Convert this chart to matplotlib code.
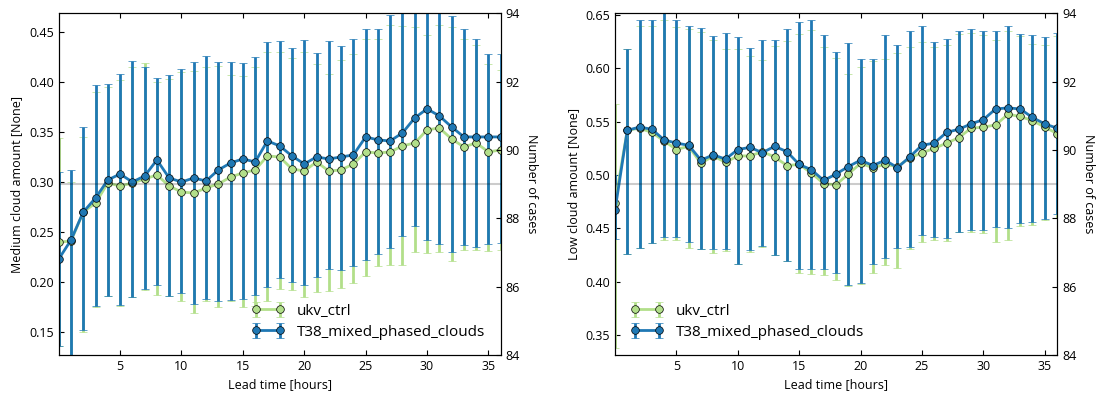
import matplotlib
matplotlib.use("Agg")
import matplotlib.pyplot as plt

plt.rcParams['font.family'] = ['Open Sans', 'DejaVu Sans']
plt.rcParams['xtick.direction'] = 'in'
plt.rcParams['ytick.direction'] = 'in'
plt.rcParams['xtick.top'] = True
plt.rcParams['xtick.labelsize'] = 9
plt.rcParams['ytick.labelsize'] = 9
plt.rcParams['axes.labelsize'] = 9

# lead times (hours)
hours = list(range(37))

# medium cloud amount: mean and spread bounds
mid_ctrl_mean = [0.240, 0.241, 0.270, 0.279, 0.299, 0.296, 0.299, 0.303, 0.307, 0.296, 0.290, 0.289, 0.294,
                 0.298, 0.305, 0.309, 0.312, 0.326, 0.325, 0.313, 0.311, 0.320, 0.311, 0.312, 0.318, 0.330,
                 0.329, 0.330, 0.336, 0.339, 0.352, 0.354, 0.343, 0.335, 0.339, 0.330, 0.332]
mid_ctrl_lo = [0.136, 0.110, 0.150, 0.175, 0.186, 0.176, 0.185, 0.192, 0.187, 0.186, 0.181, 0.169, 0.181,
               0.175, 0.181, 0.175, 0.176, 0.181, 0.193, 0.192, 0.185, 0.190, 0.191, 0.194, 0.199, 0.206,
               0.216, 0.217, 0.217, 0.230, 0.229, 0.230, 0.221, 0.232, 0.232, 0.231, 0.232]
mid_ctrl_hi = [0.344, 0.300, 0.345, 0.390, 0.395, 0.402, 0.415, 0.419, 0.400, 0.403, 0.410, 0.411, 0.415,
               0.416, 0.407, 0.406, 0.415, 0.430, 0.430, 0.424, 0.430, 0.418, 0.408, 0.422, 0.428, 0.443,
               0.443, 0.457, 0.456, 0.455, 0.447, 0.457, 0.455, 0.443, 0.437, 0.418, 0.412]

mid_t38_mean = [0.223, 0.242, 0.270, 0.284, 0.302, 0.308, 0.300, 0.306, 0.322, 0.304, 0.300, 0.304, 0.301,
                0.312, 0.319, 0.323, 0.320, 0.341, 0.336, 0.326, 0.318, 0.325, 0.323, 0.325, 0.327, 0.345,
                0.342, 0.341, 0.349, 0.364, 0.373, 0.366, 0.355, 0.345, 0.345, 0.345, 0.345]
mid_t38_lo = [0.136, 0.100, 0.152, 0.176, 0.186, 0.177, 0.185, 0.193, 0.197, 0.186, 0.189, 0.178, 0.183,
              0.181, 0.182, 0.183, 0.187, 0.195, 0.204, 0.200, 0.197, 0.205, 0.213, 0.212, 0.216, 0.222,
              0.228, 0.234, 0.246, 0.256, 0.242, 0.238, 0.230, 0.237, 0.235, 0.238, 0.239]
mid_t38_hi = [0.310, 0.312, 0.355, 0.397, 0.398, 0.408, 0.421, 0.415, 0.404, 0.407, 0.413, 0.420, 0.426,
              0.420, 0.420, 0.419, 0.425, 0.440, 0.441, 0.434, 0.442, 0.429, 0.441, 0.436, 0.443, 0.453,
              0.453, 0.467, 0.475, 0.480, 0.485, 0.478, 0.466, 0.453, 0.443, 0.428, 0.428]

# low cloud amount: mean and spread bounds
low_ctrl_mean = [0.474, 0.542, 0.544, 0.540, 0.532, 0.524, 0.527, 0.511, 0.518, 0.512, 0.518, 0.518, 0.522,
                 0.517, 0.509, 0.510, 0.502, 0.492, 0.491, 0.501, 0.511, 0.507, 0.510, 0.508, 0.516, 0.521,
                 0.525, 0.530, 0.535, 0.544, 0.545, 0.547, 0.557, 0.555, 0.551, 0.545, 0.539]
low_ctrl_lo = [0.338, 0.426, 0.432, 0.436, 0.439, 0.439, 0.432, 0.431, 0.427, 0.429, 0.417, 0.428, 0.433,
               0.425, 0.420, 0.408, 0.407, 0.406, 0.402, 0.396, 0.398, 0.408, 0.416, 0.413, 0.431, 0.437,
               0.439, 0.438, 0.447, 0.447, 0.446, 0.437, 0.439, 0.452, 0.453, 0.458, 0.460]
low_ctrl_hi = [0.567, 0.618, 0.640, 0.640, 0.645, 0.639, 0.637, 0.634, 0.627, 0.618, 0.618, 0.612, 0.608,
               0.621, 0.626, 0.632, 0.636, 0.620, 0.610, 0.595, 0.601, 0.607, 0.609, 0.614, 0.620, 0.625,
               0.620, 0.622, 0.632, 0.633, 0.631, 0.627, 0.635, 0.630, 0.623, 0.622, 0.630]

low_t38_mean = [0.467, 0.542, 0.545, 0.543, 0.533, 0.530, 0.528, 0.514, 0.519, 0.515, 0.524, 0.526, 0.521,
                0.527, 0.522, 0.510, 0.505, 0.495, 0.501, 0.508, 0.514, 0.509, 0.514, 0.507, 0.517, 0.528,
                0.530, 0.540, 0.543, 0.548, 0.552, 0.562, 0.563, 0.562, 0.554, 0.548, 0.544]
low_t38_lo = [0.440, 0.426, 0.432, 0.436, 0.442, 0.442, 0.437, 0.431, 0.431, 0.431, 0.417, 0.430, 0.434,
              0.425, 0.420, 0.412, 0.412, 0.412, 0.408, 0.397, 0.399, 0.417, 0.422, 0.432, 0.433, 0.444,
              0.442, 0.441, 0.447, 0.449, 0.449, 0.451, 0.450, 0.455, 0.456, 0.459, 0.464]
low_t38_hi = [0.500, 0.618, 0.645, 0.645, 0.655, 0.645, 0.640, 0.638, 0.630, 0.633, 0.629, 0.619, 0.627,
              0.627, 0.637, 0.643, 0.645, 0.631, 0.615, 0.624, 0.609, 0.609, 0.631, 0.622, 0.635, 0.640,
              0.625, 0.628, 0.635, 0.637, 0.635, 0.635, 0.640, 0.632, 0.631, 0.629, 0.633]

# number of cases per lead time
n_cases = [89, 89, 89, 89, 89, 89, 89, 89, 89, 89, 89, 89, 89, 89, 89, 89, 89, 89, 89,
           89, 89, 89, 89, 89, 89, 89, 89, 89, 89, 89, 89, 89, 89, 89, 89, 89, 89]

ctrl_color = '#b2df8a'
t38_color = '#1f78b4'


def spread(mean, lo, hi):
    return [[m - l for m, l in zip(mean, lo)], [h - m for m, h in zip(mean, hi)]]


def draw_panel(ax, ctrl, t38, ylabel, ylim, legend_loc):
    for (mean, lo, hi), color, label in [(ctrl, ctrl_color, 'ukv_ctrl'),
                                         (t38, t38_color, 'T38_mixed_phased_clouds')]:
        ax.errorbar(hours, mean, yerr=spread(mean, lo, hi), color=color, ecolor=color,
                    marker='o', ms=5.5, mec='k', mew=0.5, lw=2, elinewidth=2,
                    capsize=3, capthick=1, label=label)
    ax.set_xlim(0, 36)
    ax.set_ylim(*ylim)
    ax.set_xticks([5, 10, 15, 20, 25, 30, 35])
    ax.set_xlabel('Lead time [hours]')
    ax.set_ylabel(ylabel)
    ax.legend(loc=legend_loc, frameon=False, numpoints=2, fontsize=11,
              handlelength=2.2, borderaxespad=0.6, labelspacing=0.4)

    ax2 = ax.twinx()
    ax2.plot(hours, n_cases, color='k', alpha=0.2, lw=1.5)
    ax2.set_ylim(84, 94)
    ax2.set_yticks([84, 86, 88, 90, 92, 94])
    ax2.set_ylabel('Number of cases', rotation=270, va='bottom')
    ax2.set_xlim(0, 36)


fig = plt.figure(figsize=(10.99, 3.95), dpi=100)
ax_mid = fig.add_axes([0.0534, 0.1013, 0.4022, 0.865])
ax_low = fig.add_axes([0.5596, 0.1013, 0.4022, 0.865])

draw_panel(ax_mid, (mid_ctrl_mean, mid_ctrl_lo, mid_ctrl_hi), (mid_t38_mean, mid_t38_lo, mid_t38_hi),
           'Medium cloud amount [None]', (0.1273, 0.4684), 'lower right')
draw_panel(ax_low, (low_ctrl_mean, low_ctrl_lo, low_ctrl_hi), (low_t38_mean, low_t38_lo, low_t38_hi),
           'Low cloud amount [None]', (0.3315, 0.6516), 'lower left')

fig.savefig('out.png', dpi=100)
